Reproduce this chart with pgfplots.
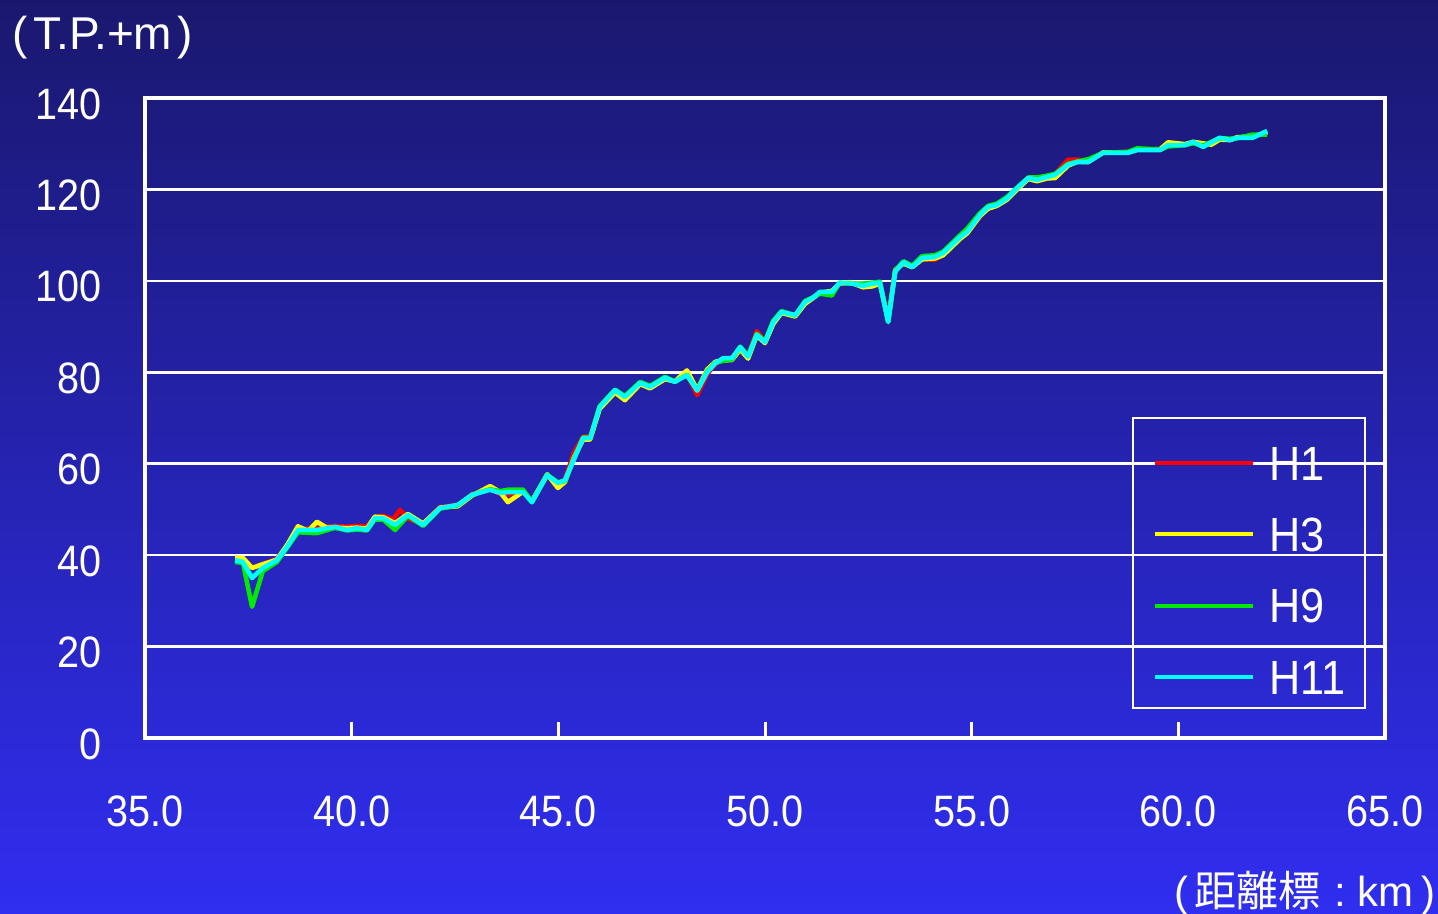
\documentclass[border=0pt]{standalone}
\usepackage{fontspec}
\setmainfont{Liberation Sans}[FakeStretch=0.9]
\newfontfamily\plain{Liberation Sans}
\newfontfamily\cjk{Noto Sans CJK JP}
\usepackage{pgfplots}
\usepackage{pgfplotstable}
\pgfplotsset{compat=1.18}

\definecolor{bgtop}{RGB}{26,24,110}
\definecolor{bgbot}{RGB}{48,46,240}
\definecolor{hred}{RGB}{255,0,0}
\definecolor{hyel}{RGB}{255,255,0}
\definecolor{hgrn}{RGB}{0,235,0}
\definecolor{hcyn}{RGB}{0,255,255}

% H1
\pgfplotstableread{
x y
37.18 39.4
37.37 39.2
37.59 37.2
37.85 38.0
38.19 39.2
38.45 42.2
38.70 45.6
39.16 46.0
39.60 46.4
39.89 46.2
40.13 46.4
40.37 46.3
40.56 48.3
40.76 48.6
41.00 47.8
41.17 49.9
41.36 48.0
41.73 46.8
42.14 50.5
42.57 51.0
42.91 53.3
43.35 54.5
43.59 53.4
43.78 53.2
44.15 53.8
44.36 51.8
44.73 57.3
44.99 55.5
45.16 56.6
45.38 62.5
45.60 65.9
45.77 66.0
46.00 72.6
46.37 76.0
46.61 74.8
46.98 77.6
47.22 76.9
47.58 78.7
47.82 78.1
48.11 79.6
48.36 75.0
48.60 79.6
48.80 81.8
48.99 83.0
49.20 83.2
49.40 85.3
49.59 83.6
49.80 89.0
50.00 86.8
50.20 91.2
50.40 93.0
50.73 92.6
50.97 95.2
51.16 96.4
51.33 97.4
51.62 97.4
51.80 99.3
52.06 99.6
52.37 99.0
52.60 99.2
52.78 99.6
52.98 91.6
53.15 102.3
53.35 104.0
53.56 103.2
53.80 104.8
54.11 104.6
54.31 105.8
54.72 109.4
54.89 110.4
55.20 114.0
55.40 116.0
55.61 116.8
55.86 118.0
56.10 120.2
56.37 122.3
56.58 122.3
56.82 122.9
57.02 123.4
57.33 126.5
57.57 126.5
57.82 126.2
58.18 128.0
58.78 128.2
59.00 128.7
59.56 128.7
59.75 129.8
60.16 129.8
60.36 130.2
60.60 129.6
61.00 131.0
61.25 131.0
61.42 131.4
61.80 131.6
62.15 132.3
}\tabHone

% H3
\pgfplotstableread{
x y
37.18 39.4
37.37 39.4
37.59 37.2
37.85 38.0
38.19 39.0
38.45 42.4
38.70 46.3
38.95 45.3
39.16 47.3
39.40 46.0
39.60 46.0
39.89 45.9
40.13 46.0
40.37 45.8
40.56 48.4
40.76 48.3
41.05 47.0
41.36 49.0
41.73 46.9
42.14 50.4
42.57 50.7
42.91 53.0
43.35 55.1
43.59 53.8
43.78 51.6
44.15 53.9
44.36 51.8
44.73 57.7
44.99 54.7
45.16 56.0
45.38 61.4
45.60 65.3
45.77 65.3
46.00 72.0
46.37 75.6
46.61 73.9
46.98 77.4
47.22 76.5
47.58 78.5
47.82 78.0
48.11 80.4
48.36 76.2
48.60 80.6
48.80 82.3
48.99 82.6
49.20 82.7
49.40 85.0
49.59 83.0
49.80 88.0
50.00 86.4
50.20 90.6
50.40 93.0
50.73 92.2
50.97 95.0
51.16 96.2
51.33 97.4
51.62 97.8
51.80 99.4
52.06 99.7
52.37 98.6
52.60 98.8
52.78 99.4
52.98 91.3
53.15 102.4
53.35 103.8
53.56 103.0
53.80 104.7
54.11 104.9
54.31 105.6
54.72 109.2
54.89 110.4
55.20 114.2
55.40 115.8
55.61 116.4
55.86 117.8
56.10 120.0
56.37 122.3
56.58 121.8
56.82 122.4
57.02 122.5
57.33 125.2
57.57 126.1
57.82 126.0
58.18 128.1
58.78 128.1
59.00 128.7
59.56 128.8
59.75 130.3
60.16 129.9
60.36 130.4
60.80 129.8
61.00 130.9
61.25 130.8
61.42 131.4
61.80 131.6
62.15 132.5
}\tabHthree

% H9
\pgfplotstableread{
x y
37.18 38.5
37.37 38.3
37.59 28.7
37.85 36.5
38.19 38.5
38.45 41.8
38.70 45.0
39.16 44.8
39.60 46.0
39.89 45.4
40.13 45.6
40.37 45.4
40.56 47.8
40.76 47.8
41.05 45.5
41.36 48.6
41.73 46.4
42.14 50.2
42.57 50.9
42.91 53.2
43.35 54.4
43.59 54.0
43.78 54.3
44.15 54.3
44.36 51.6
44.73 57.6
44.99 55.9
45.16 56.2
45.38 61.2
45.60 65.8
45.77 65.6
46.00 72.6
46.37 76.2
46.61 74.8
46.98 77.9
47.22 77.0
47.58 79.0
47.82 78.0
48.11 79.4
48.36 76.0
48.60 80.2
48.80 82.1
48.99 82.5
49.20 82.8
49.40 85.6
49.59 83.6
49.80 88.4
50.00 86.8
50.20 91.3
50.40 93.4
50.73 92.4
50.97 95.6
51.16 96.4
51.33 97.2
51.62 96.8
51.80 99.6
52.06 99.4
52.37 99.4
52.60 99.6
52.78 99.8
52.98 91.0
53.15 102.2
53.35 104.3
53.56 103.3
53.80 105.4
54.11 105.6
54.31 106.4
54.72 110.0
54.89 111.4
55.20 114.8
55.40 116.4
55.61 116.9
55.86 118.4
56.10 120.4
56.37 122.6
56.58 122.6
56.82 123.0
57.02 123.4
57.33 125.6
57.57 126.1
57.82 126.6
58.18 128.0
58.78 128.2
59.00 129.0
59.56 128.7
59.75 129.4
60.16 129.7
60.36 130.1
60.60 129.6
61.00 131.2
61.25 131.1
61.42 131.2
61.80 132.0
62.15 132.0
}\tabHnine

% H11
\pgfplotstableread{
x y
37.18 38.9
37.37 38.5
37.59 35.0
37.85 37.2
38.19 38.9
38.45 42.0
38.70 45.5
39.16 45.5
39.60 46.2
39.89 45.5
40.13 45.9
40.37 45.5
40.56 48.1
40.76 48.1
41.05 46.6
41.36 48.8
41.73 46.6
42.14 50.3
42.57 51.0
42.91 53.2
43.35 54.3
43.59 53.6
43.78 53.8
44.15 53.8
44.36 51.6
44.73 57.5
44.99 55.8
45.16 56.4
45.38 61.0
45.60 65.6
45.77 65.6
46.00 72.4
46.37 76.1
46.61 74.6
46.98 77.7
47.22 76.8
47.58 78.8
47.82 77.9
48.11 79.4
48.36 76.0
48.60 80.0
48.80 82.0
48.99 83.1
49.20 83.1
49.40 85.5
49.59 83.4
49.80 88.2
50.00 86.6
50.20 91.0
50.40 93.2
50.73 92.5
50.97 95.4
51.16 96.3
51.33 97.6
51.62 97.6
51.80 99.5
52.06 99.5
52.37 98.9
52.60 99.4
52.78 99.6
52.98 91.0
53.15 102.0
53.35 104.1
53.56 103.0
53.80 105.0
54.11 105.2
54.31 106.1
54.72 109.6
54.89 110.7
55.20 114.4
55.40 116.2
55.61 116.6
55.86 118.1
56.10 120.3
56.37 122.5
56.58 122.1
56.82 122.7
57.02 123.2
57.33 125.4
57.57 126.0
57.82 126.0
58.18 128.0
58.78 128.0
59.00 128.6
59.56 128.6
59.75 129.7
60.16 129.7
60.36 130.4
60.60 129.3
61.00 131.3
61.25 130.8
61.42 131.3
61.80 131.3
62.15 132.8
}\tabHeleven

\begin{document}
\begin{tikzpicture}
% background gradient (1 px of the reference = 0.5pt)
\shade[top color=bgtop, bottom color=bgbot] (-72.5pt,-88pt) rectangle (646.5pt,369pt);

\begin{axis}[
    at={(0pt,0pt)}, anchor=south west,
    scale only axis,
    width=620pt, height=320pt,
    xmin=35, xmax=65,
    ymin=0, ymax=140,
    xtick={35,40,...,65},
    ytick={0,20,...,140},
    /pgf/number format/assume math mode=true,
    ticklabel style={font=\fontsize{22}{22}\selectfont, text=white},
    xticklabel style={/pgf/number format/fixed, /pgf/number format/fixed zerofill,
        /pgf/number format/precision=1, yshift=-25.5pt},
    yticklabel style={xshift=-18pt, yshift=-3pt},
    xtick pos=bottom,
    ytick style={draw=none},
    xtick style={white, line width=1.5pt},
    tick align=inside,
    major tick length=8pt,
    axis line style={white, line width=2pt},
    ymajorgrids=true,
    grid style={white, line width=1.3pt},
    every axis plot/.append style={line width=2.3pt, line join=round},
    legend cell align=left,
    legend image code/.code={\draw[#1, line width=2pt] (0pt,-3.5pt) -- (49pt,-3.5pt);},
    legend style={
        at={(0.796,0.0453)}, anchor=south west,
        draw=white, line width=1pt, fill=none,
        inner xsep=10pt, inner ysep=7pt,
        row sep=11.4pt, column sep=7pt,
        font=\fontsize{24}{24}\selectfont, text=white,
        nodes={inner sep=0pt, text height=24.2pt, text depth=0pt},
    },
]
\addplot[color=hred] table[x=x, y=y] {\tabHone};
\addplot[color=hyel] table[x=x, y=y] {\tabHthree};
\addplot[color=hgrn] table[x=x, y=y] {\tabHnine};
\addplot[color=hcyn] table[x=x, y=y] {\tabHeleven};
\legend{H1,H3,H9,H11}
\end{axis}

\node[anchor=west, text=white, font=\plain\fontsize{23}{23}\selectfont, inner sep=0pt]
    at (-66.5pt,350pt) {(\kern3pt T.P.+m\kern2.5pt)};
\node[anchor=east, text=white, font=\plain\fontsize{21}{21}\selectfont, inner sep=0pt]
    at (645.5pt,-77.5pt) {(\kern3pt{\cjk 距離標}\kern1pt\ :\ km\kern4pt)};

\pgfresetboundingbox
\useasboundingbox (-72.5pt,-88pt) rectangle (646.5pt,369pt);
\end{tikzpicture}
\end{document}
